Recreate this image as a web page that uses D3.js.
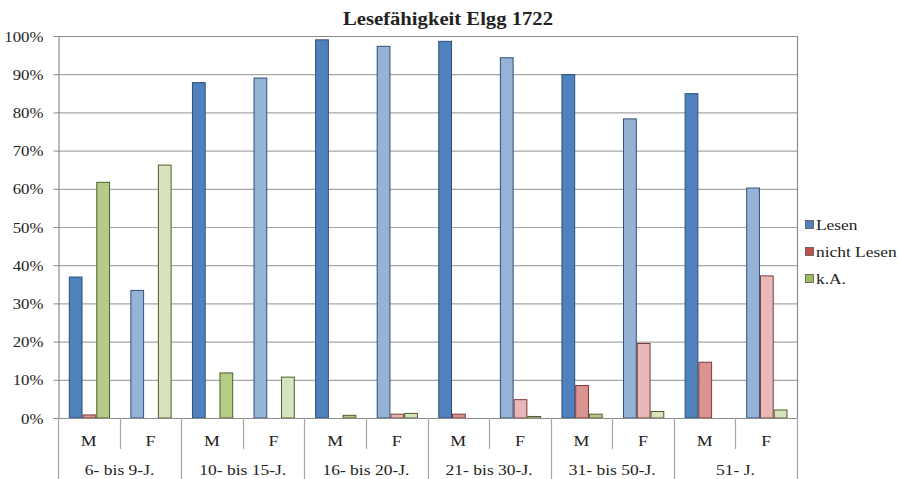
<!DOCTYPE html>
<html>
<head>
<meta charset="utf-8">
<script src="https://cdn.jsdelivr.net/npm/d3@7/dist/d3.min.js"></script>
<style>
  html, body { margin: 0; padding: 0; background: #fff; }
  svg { display: block; }
  text { font-family: "Liberation Serif", "Times New Roman", serif; fill: #222; }
</style>
</head>
<body>
<svg id="chart" width="898" height="479"></svg>
<script>
// Age groups and sexes along the category axis
const ageGroups = ["6- bis 9-J.", "10- bis 15-J.", "16- bis 20-J.", "21- bis 30-J.", "31- bis 50-J.", "51- J."];
const sexes = ["M", "F"];
const seriesNames = ["Lesen", "nicht Lesen", "k.A."];

// Shares in percent, one entry per age group × sex (M, F, M, F, ...)
const lesen       = [36.9, 33.4, 87.8, 89.0, 99.0, 97.3, 98.6, 94.3, 89.9, 78.3, 84.9, 60.2];
const nichtLesen  = [0.8, 0, 0, 0, 0, 1.0, 1.0, 4.8, 8.5, 19.5, 14.6, 37.2];
const keineAngabe = [61.7, 66.2, 11.8, 10.7, 0.7, 1.2, 0, 0.4, 1.0, 1.7, 0, 2.1];

const yTicks = [0, 10, 20, 30, 40, 50, 60, 70, 80, 90, 100];

// Fill / outline per series, darker for men and lighter for women
const fills = {
  "Lesen":       { M: "#4f81bd", F: "#95b3d7", stroke: "#2f4f78" },
  "nicht Lesen": { M: "#d99492", F: "#e8b9b8", stroke: "#7a3a38" },
  "k.A.":        { M: "#b5cc86", F: "#d7e4bd", stroke: "#4e5e2c" }
};
const legendFill = { "Lesen": "#4f81bd", "nicht Lesen": "#c0504d", "k.A.": "#9bbb59" };

const svg = d3.select("#chart");
const plot = { left: 58, right: 797, top: 36, bottom: 418 };

// Text is set slightly wide, in the manner of the original layout
function wideText(sel, x, y, sx) {
  return sel.attr("x", 0).attr("y", 0)
    .attr("transform", (d, i) => `translate(${typeof x === "function" ? x(d, i) : x},${typeof y === "function" ? y(d, i) : y}) scale(${sx},1)`);
}

const cats = [];
ageGroups.forEach((g, gi) => sexes.forEach((s, si) => cats.push({ group: g, sex: s, i: gi * 2 + si })));

const x0 = d3.scaleBand().domain(cats.map(c => c.i)).range([plot.left, plot.right]).padding(0);
const x1 = d3.scaleBand().domain(seriesNames)
  .range([x0.bandwidth() * 0.175, x0.bandwidth() * 0.845]).padding(0);
const y = d3.scaleLinear().domain([0, 100]).range([plot.bottom, plot.top]);

// Gridlines
svg.append("g").selectAll("line").data(yTicks.slice(1)).join("line")
  .attr("x1", plot.left).attr("x2", plot.right)
  .attr("y1", d => y(d) + 0.5).attr("y2", d => y(d) + 0.5)
  .attr("stroke", "#a6a6a6").attr("stroke-width", 1.2);

// Plot frame (top and right)
svg.append("path")
  .attr("d", `M${plot.left},${plot.top + 0.5}H${plot.right + 0.5}V${plot.bottom}`)
  .attr("fill", "none").attr("stroke", "#8c8c8c").attr("stroke-width", 1.2);

// Y axis
const yAxis = d3.axisLeft(y).tickValues(yTicks).tickSize(5).tickPadding(10).tickFormat(d => d + "%");
const ya = svg.append("g").attr("transform", `translate(${plot.left + 0.5},0)`)
  .call(yAxis)
  .attr("font-family", "Liberation Serif, serif");
ya.select(".domain").attr("stroke", "#8c8c8c").attr("stroke-width", 1.2);
ya.selectAll(".tick line").attr("stroke", "#8c8c8c");
ya.selectAll(".tick text")
  .style("font-family", "Liberation Serif, serif").style("font-size", "15px").attr("fill", "#222")
  .attr("dy", "0.34em");
wideText(ya.selectAll(".tick text"), -15, 0, 1.12);

// Bars
const rows = cats.map(c => ({
  cat: c,
  values: [lesen[c.i], nichtLesen[c.i], keineAngabe[c.i]]
}));
const groups = svg.append("g").selectAll("g").data(rows).join("g")
  .attr("transform", d => `translate(${x0(d.cat.i)},0)`);
groups.selectAll("rect")
  .data(d => seriesNames.map((s, k) => ({ s, v: d.values[k], sex: d.cat.sex })).filter(e => e.v > 0))
  .join("rect")
  .attr("x", d => x1(d.s) + 0.5)
  .attr("width", x1.bandwidth() - 1)
  .attr("y", d => y(d.v))
  .attr("height", d => y(0) - y(d.v))
  .attr("fill", d => fills[d.s][d.sex])
  .attr("stroke", d => fills[d.s].stroke)
  .attr("stroke-width", 1);

// Category axis: baseline, separators and labels
const cax = svg.append("g");
cax.append("line").attr("x1", plot.left).attr("x2", plot.right + 0.5)
  .attr("y1", plot.bottom + 0.5).attr("y2", plot.bottom + 0.5)
  .attr("stroke", "#8c8c8c").attr("stroke-width", 1.2);
const sepX = d3.range(0, cats.length + 1).map(k => k < cats.length ? x0(k) : plot.right);
cax.selectAll("line.sep").data(sepX).join("line").attr("class", "sep")
  .attr("x1", d => Math.round(d) + 0.5).attr("x2", d => Math.round(d) + 0.5)
  .attr("y1", plot.bottom)
  .attr("y2", (d, k) => k % 2 === 0 ? 479 : 449)
  .attr("stroke", "#a6a6a6").attr("stroke-width", 1.2);
wideText(
  cax.selectAll("text.sex").data(cats).join("text").attr("class", "sex")
    .attr("text-anchor", "middle").style("font-size", "15.5px").text(d => d.sex),
  d => x0(d.i) + x0.bandwidth() / 2, 446, 1.15);
wideText(
  cax.selectAll("text.grp").data(ageGroups).join("text").attr("class", "grp")
    .attr("text-anchor", "middle").style("font-size", "15.5px").text(d => d),
  (d, gi) => x0(gi * 2) + x0.bandwidth(), 475, 1.13);

// Title
wideText(
  svg.append("text").attr("text-anchor", "middle")
    .style("font-size", "19.5px").style("font-weight", "bold")
    .text("Lesefähigkeit Elgg 1722"),
  448, 25, 1.06);

// Legend
const lg = svg.append("g").attr("transform", "translate(805,225)");
const items = lg.selectAll("g").data(seriesNames).join("g")
  .attr("transform", (d, k) => `translate(0,${k * 27})`);
items.append("rect").attr("x", 0.5).attr("y", -4.5).attr("width", 8).attr("height", 8)
  .attr("fill", d => legendFill[d]).attr("stroke", "#555").attr("stroke-width", 0.8);
wideText(items.append("text").style("font-size", "14.5px").text(d => d), 11, 5, 1.2);
</script>
</body>
</html>
